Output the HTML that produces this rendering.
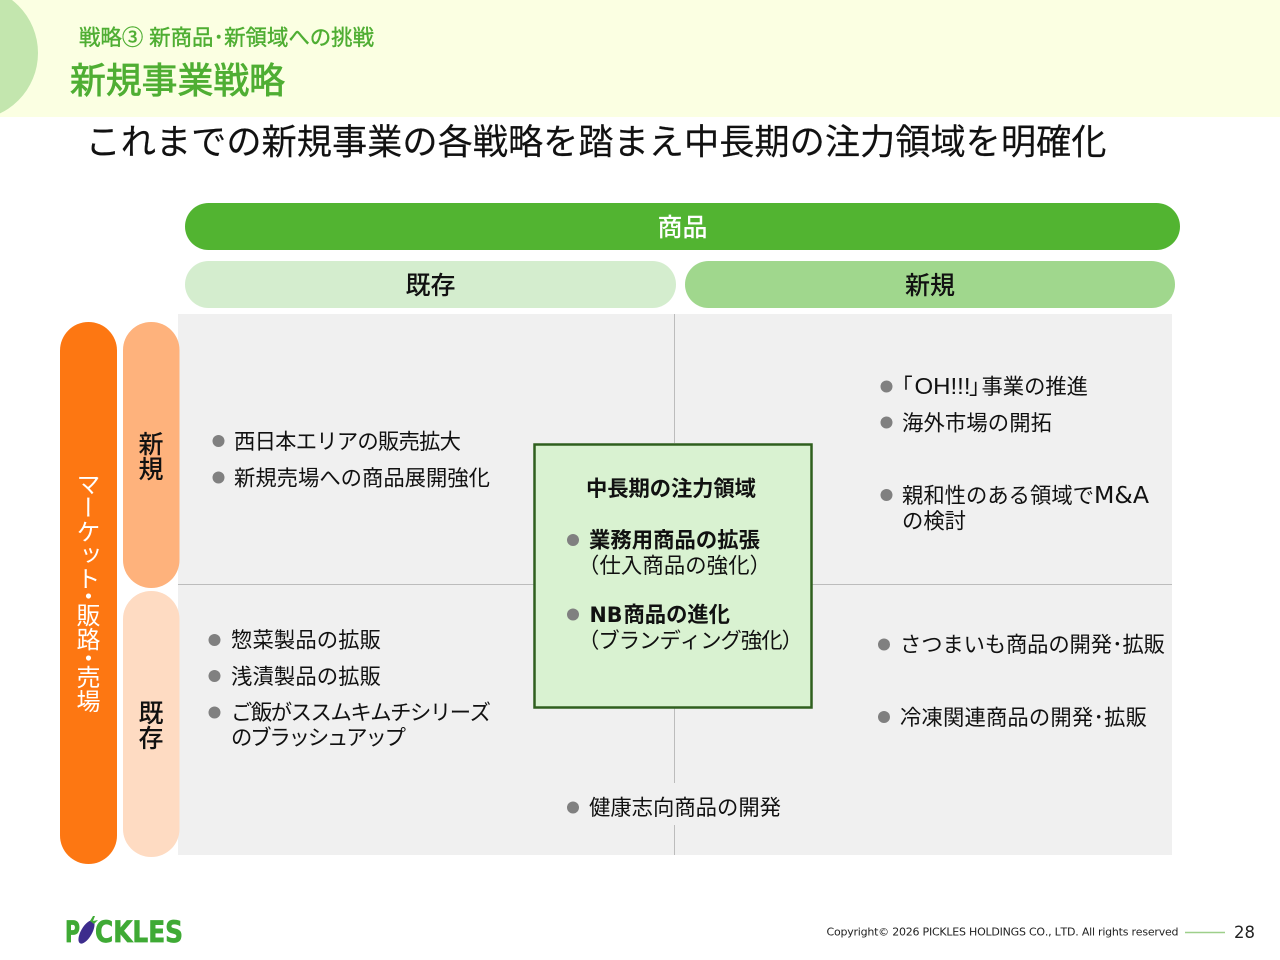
<!DOCTYPE html>
<html lang="ja"><head><meta charset="utf-8"><title>新規事業戦略</title>
<style>
html,body{margin:0;padding:0;background:#fff;width:1280px;height:960px;overflow:hidden}
svg{display:block;position:absolute;left:0;top:0}
text{font-family:"Liberation Sans","Noto Sans CJK JP",sans-serif;fill:#111;text-spacing-trim:space-all;font-kerning:none}
.b{font-size:21.33px}
.m{font-weight:700;font-size:21.33px}
.l{font-family:"DejaVu Sans",sans-serif}
.v{position:absolute;writing-mode:vertical-rl;font-family:"Noto Sans CJK JP",sans-serif;white-space:nowrap;line-height:1;text-spacing-trim:space-all}
.w{left:76px;font-size:24px;color:#fff}
.g{font-family:"DejaVu Sans",sans-serif;font-weight:700;fill:#3faa35;stroke:#3faa35;stroke-width:.7px}
</style></head><body>
<svg width="1280" height="960" viewBox="0 0 1280 960">
<defs><clipPath id="h"><rect x="0" y="0" width="1280" height="117"/></clipPath></defs>
<rect x="0" y="0" width="1280" height="117" fill="#fbffe2"/>
<circle cx="-29" cy="53" r="67" fill="#c3e6ae" clip-path="url(#h)"/>
<text x="79" y="45" font-size="21.5" style="fill:#4fae33;stroke:#4fae33;stroke-width:.4px" textLength="295" lengthAdjust="spacingAndGlyphs">戦略③ 新商品･新領域への挑戦</text>
<text x="70" y="93" font-size="36" style="fill:#4fae33;stroke:#4fae33;stroke-width:.8px" textLength="215" lengthAdjust="spacingAndGlyphs">新規事業戦略</text>
<text x="85.500" y="154" font-size="35.500" style="stroke:#111;stroke-width:.15px" textLength="1021" lengthAdjust="spacingAndGlyphs">これまでの新規事業の各戦略を踏まえ中長期の注力領域を明確化</text>

<rect x="185" y="203" width="995" height="47" rx="23.5" fill="#52b431"/>
<rect x="185" y="261" width="491" height="47" rx="23.5" fill="#d4edce"/>
<rect x="685" y="261" width="490" height="47" rx="23.5" fill="#a0d78d"/>
<text x="682.5" y="236" font-size="25" font-weight="500" text-anchor="middle" style="fill:#fff">商品</text>
<text x="430.5" y="294" font-size="25" font-weight="500" text-anchor="middle">既存</text>
<text x="930" y="294" font-size="25" font-weight="500" text-anchor="middle">新規</text>

<rect x="178" y="314" width="994" height="541" fill="#f0f0f0"/>
<g stroke="#bcbcbc" stroke-width="1">
<line x1="674.5" y1="314" x2="674.5" y2="443"/>
<line x1="674.5" y1="708" x2="674.5" y2="783"/>
<line x1="674.5" y1="825" x2="674.5" y2="855"/>
<line x1="178" y1="584.5" x2="534" y2="584.5"/>
<line x1="812" y1="584.5" x2="1172" y2="584.5"/>
</g>

<rect x="60" y="322" width="57" height="542" rx="28.5" fill="#fd7712"/>
<rect x="123" y="322" width="56.500" height="266" rx="28" fill="#feb27c"/>
<rect x="123" y="591" width="56.500" height="266" rx="28" fill="#fedbc2"/>

<rect x="534.500" y="444.500" width="277" height="263" fill="#d9f2d1" stroke="#2f5f1e" stroke-width="2.500"/>

<g fill="#808080">
<circle cx="218.500" cy="441" r="6"/><circle cx="218.500" cy="477.500" r="6"/>
<circle cx="214.500" cy="640" r="6"/><circle cx="214.500" cy="676" r="6"/><circle cx="214.500" cy="712.500" r="6"/>
<circle cx="886.500" cy="386.500" r="6"/><circle cx="886.500" cy="422.500" r="6"/><circle cx="886.500" cy="495" r="6"/>
<circle cx="884" cy="644.500" r="6"/><circle cx="884" cy="717" r="6"/>
<circle cx="573" cy="540" r="6"/><circle cx="573" cy="614.500" r="6"/><circle cx="573" cy="807.500" r="6"/>
</g>

<text class="b" x="234" y="449" textLength="227">西日本エリアの販売拡大</text>
<text class="b" x="234" y="485.500" textLength="256">新規売場への商品展開強化</text>
<text class="b" x="231" y="647.500" textLength="150">惣菜製品の拡販</text>
<text class="b" x="231" y="684" textLength="150">浅漬製品の拡販</text>
<text class="b" x="231" y="720" textLength="260">ご飯がススムキムチシリーズ</text>
<text class="b" x="231" y="745" textLength="175">のブラッシュアップ</text>
<text class="b" x="902" y="394">｢</text>
<text x="914.500" y="394" style="font-size:23.500px" textLength="56" lengthAdjust="spacingAndGlyphs">OH!!!</text>
<text class="b" x="969" y="394">｣</text>
<text class="b" x="981.500" y="394" textLength="106.500">事業の推進</text>
<text class="b" x="902" y="430.500" textLength="150">海外市場の開拓</text>
<text class="b" x="902" y="503" textLength="192">親和性のある領域で</text>
<text class="l" x="1094" y="503" style="font-size:23px" textLength="55" lengthAdjust="spacingAndGlyphs">M&amp;A</text>
<text class="b" x="902" y="528.500" textLength="64">の検討</text>
<text class="b" x="900" y="652" textLength="265">さつまいも商品の開発･拡販</text>
<text class="b" x="900" y="725" textLength="247">冷凍関連商品の開発･拡販</text>
<text class="m" x="586" y="496" textLength="170">中長期の注力領域</text>
<text class="m" x="589" y="547.500" textLength="171">業務用商品の拡張</text>
<text class="b" x="578" y="573" textLength="193">（仕入商品の強化）</text>
<text class="m l" x="589.500" y="622" textLength="33" lengthAdjust="spacingAndGlyphs">NB</text>
<text class="m" x="623.500" y="622" textLength="106.500">商品の進化</text>
<text class="b" x="578" y="648" textLength="225">（ブランディング強化）</text>
<text class="b" x="589" y="815" textLength="192">健康志向商品の開発</text>

<text class="g" x="65" y="942" style="font-size:29px" textLength="15" lengthAdjust="spacingAndGlyphs">P</text>
<text class="g" x="84" y="942" style="font-size:29px">I</text>
<text class="g" x="95" y="942" style="font-size:29px" textLength="88" lengthAdjust="spacingAndGlyphs">CKLES</text>
<rect x="82" y="915" width="12" height="30" fill="#fff"/>
<ellipse cx="86.500" cy="932" rx="5.500" ry="13" transform="rotate(30 86.500 932)" fill="#3d2c8d"/>
<path d="M90 921l3-5 2 0-2 5 5-1-4 4z" fill="#3faa35"/>
<text x="826.500" y="935.500" font-size="11" style="fill:#222;font-family:'DejaVu Sans',sans-serif" textLength="352">Copyright© 2026 PICKLES HOLDINGS CO., LTD. All rights reserved</text>
<line x1="1185" y1="932.500" x2="1225" y2="932.500" stroke="#9ecf8a" stroke-width="1.500"/>
<text x="1234" y="938" font-size="16.500" style="fill:#222;font-family:'DejaVu Sans',sans-serif" textLength="21">28</text>
</svg>
<div class="v w" style="top:472px;letter-spacing:-.4px">マーケット</div>
<div class="v w" style="top:584px">・</div>
<div class="v w" style="top:603px">販路</div>
<div class="v w" style="top:646px">・</div>
<div class="v w" style="top:665px">売場</div>
<div class="v" style="left:138px;top:431px;font-size:25px;font-weight:500;color:#111">新規</div>
<div class="v" style="left:138px;top:700px;font-size:25px;font-weight:500;color:#111">既存</div>
</body></html>
